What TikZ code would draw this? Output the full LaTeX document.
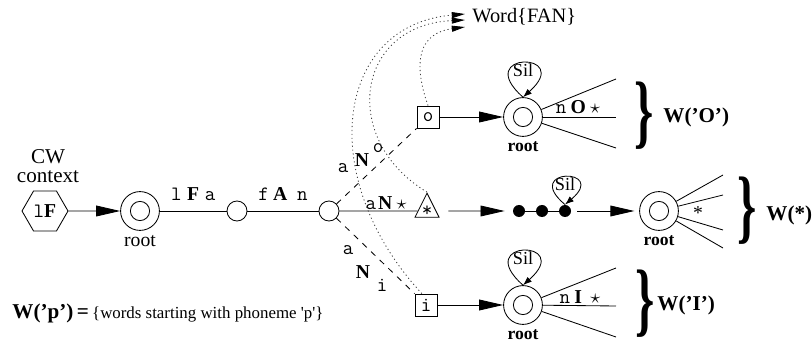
\documentclass[tikz,border=0pt]{standalone}
\usepackage{fontspec}
\setmainfont{Liberation Serif}
\usepackage{graphicx}
\usetikzlibrary{positioning, shapes.geometric, arrows.meta, calc}

% font size shortcut
\newcommand{\fsz}[1]{\fontsize{#1}{#1}\selectfont}
% typewriter phone symbol
\newcommand{\tph}[1]{{\fsz{14.5}\ttfamily #1}}
% tall bold curly brace for the word groups
\newcommand{\WordBrace}{\scalebox{0.6}[1]{\fsz{58}\bfseries\}}}
% silence self loop on top of a state: #1 node, #2 spread, #3 height
\newcommand{\SilLoop}[3]{
    \draw[ArrowSil] (#1.north) .. controls ($(#1.north)+(-#2,#3)$) and ($(#1.north)+(#2,#3)$) ..
        node[sil, pos=0.5] {Sil} (#1.north);
}

\begin{document}
\begin{tikzpicture}[
    % GLOBAL CFG
    x=0.025cm, y=0.025cm,
    line width=0.6pt,
    font=\fsz{14},
    % Styles
    state/.style={% For the plain states of the prefix
        circle, draw, minimum size=0.5cm, inner sep=0pt,
        },
    rootstate/.style={% For the tree roots (double circle)
        circle, draw, minimum size=0.97cm, inner sep=0pt,
        path picture={\draw (path picture bounding box.center) circle (0.24cm);},
        },
    filler/.style={% For the black filler states
        circle, fill, minimum size=0.3cm, inner sep=0pt,
        },
    phonebox/.style={% For the boxed phones
        rectangle, draw, minimum size=0.55cm, inner sep=0pt,
        font=\fsz{14.5}\ttfamily,
        },
    wildcard/.style={% For the triangle
        isosceles triangle, isosceles triangle stretches, shape border rotate=90,
        draw, minimum width=0.6cm, minimum height=0.6cm, inner sep=0pt,
        font=\fsz{14.5}\ttfamily,
        },
    ctxbox/.style={% For the cross word context
        regular polygon, regular polygon sides=6, draw,
        minimum size=1.15cm, inner sep=0pt,
        },
    ttl/.style={font=\fsz{14.5}\ttfamily, inner sep=0pt},
    bfl/.style={font=\fsz{14}\bfseries, inner sep=0pt},
    rootlabel/.style={font=\fsz{12.5}\bfseries, inner sep=0pt},
    grouplabel/.style={font=\fsz{15}\bfseries, inner sep=0pt, anchor=west},
    sil/.style={font=\fsz{13}, inner sep=0.5pt, anchor=north},
    ArrowBig/.style={-{Triangle[length=0.6cm, width=0.27cm]}},
    ArrowSil/.style={-{Latex[length=0.22cm, width=0.16cm]}},
    ArrowWord/.style={-{Triangle[length=0.33cm, width=0.15cm, black]}, black!75, dash pattern=on 0.8pt off 2pt},
    ArrowDash/.style={dash pattern=on 0.15cm off 0.15cm},
    ]
\useasboundingbox (0,0) rectangle (812,343);

% Cross word context and the shared prefix
\node[ctxbox] (ctx) at (45,132) {\tph{l}\textbf{F}};
\node[align=center, font=\fsz{15}, inner sep=0pt] (cw) at (48,177) {CW\\[-1pt]context};
\node[rootstate, label={[font=\fsz{14}, inner sep=0pt, label distance=3pt]below:root}] (root0) at (140,132) {};
\node[state] (s1) at (237,132) {};
\node[state] (s2) at (329,132) {};
\draw[ArrowBig] (ctx) -- (root0);
\draw (root0) -- node[above=7pt, inner sep=0pt] {\tph{l}\hspace{4pt}\textbf{F}\hspace{4pt}\tph{a}} (s1)
      -- node[above=7pt, inner sep=0pt] {\tph{f}\hspace{3pt}\textbf{A}\hspace{7pt}\tph{n}} (s2);

% Three branches leaving the prefix
\node[phonebox] (boxO) at (428,226) {o};
\node[wildcard] (tri) at (427,132) {*};
\node[phonebox] (boxI) at (426,38) {i};
\draw[ArrowDash] (s2) -- (boxO.south west);
\draw (s2) -- (tri);
\draw[ArrowDash] (s2) -- (boxI.north west);

% Branch labels
\node[ttl] (aO) at (343,175) {a};
\node[bfl] (nO) at (362,183) {N};
\node[ttl] (oO) at (378,195) {o};
\node[inner sep=0pt] (aS) at (386,140) {\tph{a}\hspace{1.5pt}\textbf{N}\hspace{3pt}$\star$};
\node[ttl] (aI) at (348,93) {a};
\node[bfl] (nI) at (363,71) {N};
\node[ttl] (iI) at (382,58) {i};

% Links to the word end marker
\node[anchor=west, font=\fsz{14.5}, inner sep=0pt] (word) at (472,326) {Word\{FAN\}};
\coordinate (wA) at (465,329);
\coordinate (wB) at (465,323);
\coordinate (wC) at (465,316);
\draw[ArrowWord] (boxI.110) .. controls (315,165) and (335,318) .. (wA);
\draw[ArrowWord] (tri.apex) .. controls (340,203) and (355,318) .. (wB);
\draw[ArrowWord] (boxO.north) .. controls (412,283) and (420,310) .. (wC);

% Tree for words starting with O
\node[rootstate, label={[rootlabel, label distance=3pt]below:root}] (rootO) at (523,226) {};
\draw[ArrowBig] (boxO) -- (rootO);
\SilLoop{rootO}{52}{46}
\foreach \y [count=\i] in {264,226,195}{
    \coordinate (fanO\i) at (616,\y);
    \draw (rootO) -- (fanO\i);
}
\node[inner sep=0pt] (lblO) at (578,236) {\tph{n}\hspace{3pt}\textbf{O}\hspace{3pt}$\star$};
\node[inner sep=0pt] (brO) at (644,227) {\WordBrace};
\node[grouplabel] (wO) at (663,226) {W(’O’)};

% Fillers and the tree for any other word
\node[filler] (d1) at (519,132) {};
\node[filler] (d2) at (542,132) {};
\node[filler] (d3) at (565,132) {};
\node[rootstate, label={[rootlabel, label distance=3pt]below:root}] (rootS) at (659,132) {};
\draw[ArrowBig, shorten <=0.3cm, shorten >=0.2cm] (tri) -- (d1);
\draw (d1) -- (d2) -- (d3);
\draw[ArrowBig, shorten <=0.15cm, shorten >=0.12cm] (d3) -- (rootS);
\SilLoop{d3}{44}{37}
\foreach \y [count=\i] in {168,148,113,95}{
    \coordinate (fanS\i) at (723,\y);
    \draw (rootS) -- (fanS\i);
}
\node[inner sep=0pt] (lblS) at (698,130) {*};
\node[inner sep=0pt] (brS) at (747,132) {\WordBrace};
\node[grouplabel] (wS) at (766,128) {W(*)};

% Tree for words starting with I
\node[rootstate, label={[rootlabel, label distance=3pt]below:root}] (rootI) at (523,38) {};
\draw[ArrowBig] (boxI) -- (rootI);
\SilLoop{rootI}{52}{46}
\foreach \y [count=\i] in {75,37,6}{
    \coordinate (fanI\i) at (616,\y);
    \draw (rootI) -- (fanI\i);
}
\node[inner sep=0pt] (lblI) at (580,46) {\tph{n}\hspace{3pt}\textbf{I}\hspace{6pt}$\star$};
\node[inner sep=0pt] (brI) at (645,39) {\WordBrace};
\node[grouplabel] (wI) at (657,38) {W(’I’)};

% Definition of the word groups
\node[anchor=west, inner sep=0pt] (defW) at (12,30) {{\fsz{15}\bfseries W(’p’)\,=}\,{\fsz{12}\{words starting with phoneme \textquotesingle p\textquotesingle\}}};
\end{tikzpicture}
\end{document}
